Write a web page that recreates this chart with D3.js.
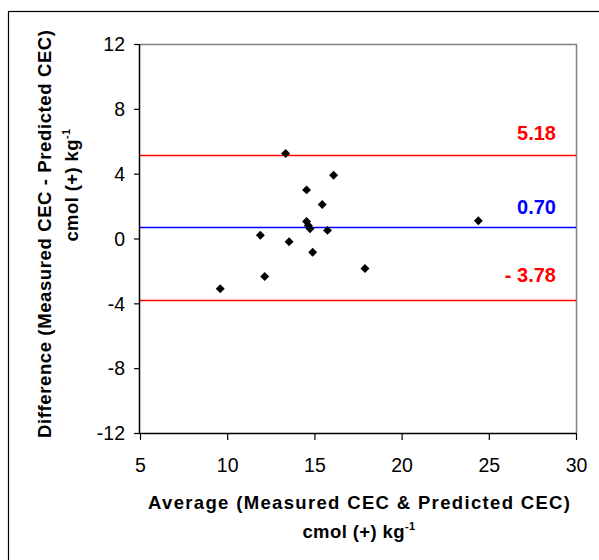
<!DOCTYPE html>
<html>
<head>
<meta charset="utf-8">
<script src="https://cdn.jsdelivr.net/npm/d3@7"></script>
<style>
  html, body { margin: 0; padding: 0; background: #fff; }
  svg { display: block; font-family: "Liberation Sans", Arial, sans-serif; }
</style>
</head>
<body>
<svg id="chart" width="599" height="560"></svg>
<script>
// ---- data ----
const avgValues  = [9.6, 11.9, 12.15, 13.35, 13.55, 14.55, 14.55, 14.65, 14.75, 14.9, 15.45, 15.75, 16.1, 17.9, 24.4];
const diffValues = [-3.1, 0.2, -2.35, 5.25, -0.2, 3.0, 1.05, 0.8, 0.6, -0.85, 2.1, 0.5, 3.9, -1.85, 1.1];
const xTicks = [5, 10, 15, 20, 25, 30];
const yTicks = [-12, -8, -4, 0, 4, 8, 12];
const refValues = [5.18, 0.70, -3.78];
const refLabels = ["5.18", "0.70", "- 3.78"];
const refColors = ["#ff0000", "#0000ff", "#ff0000"];

// ---- layout ----
const svg = d3.select("#chart");
const pL = 140, pR = 576, pT = 44, pB = 433;
const FONT = "'Liberation Sans', Arial, sans-serif";

const x = d3.scaleLinear().domain([5, 30]).range([pL, pR]);
const y = d3.scaleLinear().domain([-12, 12]).range([pB, pT]);

// outer frame
svg.append("rect").attr("x", 8.5).attr("y", 11.5).attr("width", 620).attr("height", 620)
  .attr("fill", "none").style("stroke", "#000").style("stroke-width", 1.2);

// plot area border (top & right gray)
svg.append("path")
  .attr("d", `M${pL},${pT + 0.5}H${pR + 0.5}V${pB}`)
  .attr("fill", "none").style("stroke", "#808080").style("stroke-width", 1.5);

// reference lines
svg.append("g").selectAll("line")
  .data(refValues)
  .join("line")
  .attr("x1", pL).attr("x2", pR)
  .attr("y1", d => Math.round(y(d)) + 0.5).attr("y2", d => Math.round(y(d)) + 0.5)
  .style("stroke", (d, i) => refColors[i]).style("stroke-width", 1.3);

// axes
const xAxis = d3.axisBottom(x).tickValues(xTicks).tickSize(7).tickPadding(18).tickFormat(d => String(d));
const yAxis = d3.axisLeft(y).tickValues(yTicks).tickSize(6).tickPadding(9).tickFormat(d => String(d));

const gx = svg.append("g").attr("transform", `translate(0,${pB})`).call(xAxis);
const gy = svg.append("g").attr("transform", `translate(${pL},0)`).call(yAxis);
[gx, gy].forEach(g => {
  g.select(".domain").style("stroke", "#000").style("stroke-width", 1.5);
  g.selectAll(".tick line").style("stroke", "#000").style("stroke-width", 1.2);
  g.selectAll(".tick text").attr("fill", "#000").style("font-size", "19.5px")
    .style("font-family", FONT);
});
gx.select(".domain").attr("d", `M${pL},0.5H${pR}`);
gy.select(".domain").attr("d", `M-0.5,${pT}V${pB}`);
gx.selectAll(".tick text").attr("dy", "0.7em");
gy.selectAll(".tick text").attr("dy", "0.35em");

// reference labels
const labelYOffset = [-15, -13.5, -18];
svg.append("g").selectAll("text")
  .data(refValues)
  .join("text")
  .attr("x", 556).attr("y", (d, i) => y(d) + labelYOffset[i])
  .attr("text-anchor", "end")
  .attr("fill", (d, i) => refColors[i])
  .style("font-size", "20px").style("font-weight", "bold")
  .text((d, i) => refLabels[i]);

// points (diamonds)
const diamond = d3.symbol().type(d3.symbolSquare).size(40);
svg.append("g").selectAll("path")
  .data(avgValues.map((a, i) => [a, diffValues[i]]))
  .join("path")
  .attr("d", diamond)
  .attr("transform", d => `translate(${x(d[0])},${y(d[1])}) rotate(45)`)
  .attr("fill", "#000");

// x axis title
svg.append("text").attr("text-anchor", "middle").attr("x", 359).attr("y", 509)
  .attr("textLength", 422).attr("lengthAdjust", "spacing")
  .style("font-size", "18.5px").style("font-weight", "bold").attr("fill", "#000")
  .text("Average (Measured CEC & Predicted CEC)");
const xt2 = svg.append("text").attr("text-anchor", "middle").attr("x", 359).attr("y", 537.5)
  .style("font-size", "18.5px").style("font-weight", "bold").style("letter-spacing", "0.4px").attr("fill", "#000");
xt2.append("tspan").text("cmol (+) kg");
xt2.append("tspan").attr("dy", -8).style("font-size", "11px").text("-1");

// y axis title
svg.append("text").attr("text-anchor", "middle")
  .attr("transform", "translate(51,234) rotate(-90)")
  .attr("x", 0).attr("y", 0)
  .attr("textLength", 408).attr("lengthAdjust", "spacing")
  .style("font-size", "18.5px").style("font-weight", "bold").attr("fill", "#000")
  .text("Difference (Measured CEC - Predicted CEC)");
const yt2 = svg.append("text").attr("text-anchor", "middle")
  .attr("transform", "translate(78,185) rotate(-90)")
  .attr("x", 0).attr("y", 0)
  .style("font-size", "18.5px").style("font-weight", "bold").style("letter-spacing", "0.4px").attr("fill", "#000");
yt2.append("tspan").text("cmol (+) kg");
yt2.append("tspan").attr("dy", -8).style("font-size", "11px").text("-1");
</script>
</body>
</html>
